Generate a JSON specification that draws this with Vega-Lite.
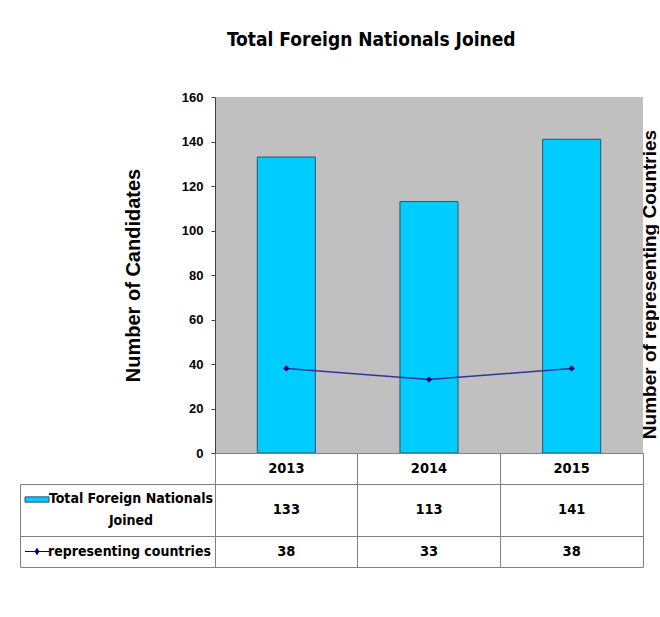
{
  "$schema": "https://vega.github.io/schema/vega-lite/v6.json",
  "background": "white",
  "padding": {"left": 19, "top": 31, "right": 0, "bottom": 0},
  "autosize": {"type": "pad"},
  "spacing": 0,
  "bounds": "flush",
  "align": "each",
  "columns": 2,
  "title": {"text": "Total Foreign Nationals Joined", "font": "DejaVu Sans Condensed, Liberation Sans", "fontSize": 19, "fontWeight": "bold", "color": "black", "anchor": "middle", "dx": 32, "offset": 41},
  "config": {"view": {"stroke": "#808080", "strokeWidth": 1}, "font": "Liberation Sans"},
  "datasets": {
    "years": [
      {"year": "2013", "candidates": 133, "countries": 38},
      {"year": "2014", "candidates": 113, "countries": 33},
      {"year": "2015", "candidates": 141, "countries": 38}
    ],
    "series": [
      {"series": "Total Foreign Nationals Joined", "label": "Total Foreign Nationals\nJoined"},
      {"series": "representing countries", "label": "representing countries"}
    ]
  },
  "concat": [
    {"width": 195, "height": 356, "view": {"stroke": null}, "data": {"values": []}, "mark": "point"},
    {
      "width": 428, "height": 356,
      "view": {"stroke": null, "fill": "#C0C0C0"},
      "data": {"name": "years"},
      "encoding": {
        "x": {"field": "year", "type": "nominal", "scale": {"type": "band", "paddingInner": 0.593, "paddingOuter": 0.2965},
          "axis": {"labels": false, "ticks": false, "title": null, "domainColor": "#404040", "grid": false}}
      },
      "layer": [
        {
          "mark": {"type": "bar", "fill": "#00CCFF", "stroke": "#2F4F6F", "strokeWidth": 1},
          "encoding": {
            "y": {"field": "candidates", "type": "quantitative", "scale": {"domain": [0, 160], "nice": false},
              "axis": {"title": "Number of Candidates", "titleFont": "Liberation Sans", "titleFontSize": 20, "titleFontWeight": "bold", "titleColor": "black", "titlePadding": 38,
                "values": [0, 20, 40, 60, 80, 100, 120, 140, 160], "labelFont": "Liberation Sans", "labelFontSize": 13, "labelFontWeight": "bold", "labelColor": "black",
                "labelPadding": 8, "labelFlush": false, "labelOverlap": false, "tickSize": 4, "tickColor": "#404040", "domainColor": "#404040", "grid": false}}
          }
        },
        {
          "mark": {"type": "line", "color": "#333399", "strokeWidth": 1.5},
          "encoding": {
            "y": {"field": "countries", "type": "quantitative", "scale": {"domain": [0, 160], "nice": false},
              "axis": {"orient": "right", "title": "Number of representing Countries", "titleFont": "Liberation Sans", "titleFontSize": 19, "titleFontWeight": "bold", "titleColor": "black",
                "titleAngle": 270, "titlePadding": 16, "titleY": 187, "labels": false, "ticks": false, "domain": false, "grid": false}}
          }
        },
        {
          "mark": {"type": "point", "shape": "diamond", "filled": true, "color": "#000080", "size": 40, "opacity": 1},
          "encoding": {
            "y": {"field": "countries", "type": "quantitative", "scale": {"domain": [0, 160], "nice": false}, "axis": null}
          }
        }
      ],
      "resolve": {"scale": {"y": "independent"}, "axis": {"y": "independent"}}
    },
    {"width": 195, "height": 31, "view": {"stroke": null}, "data": {"values": []}, "mark": "point"},
    {
      "width": 428, "height": 31,
      "data": {"name": "years"},
      "mark": {"type": "text", "font": "DejaVu Sans Condensed, Liberation Sans", "fontSize": 14.5, "fontWeight": "bold", "color": "black"},
      "encoding": {
        "x": {"field": "year", "type": "nominal", "scale": {"type": "band", "padding": 0},
          "axis": {"labels": false, "ticks": false, "domain": false, "title": null, "grid": true, "gridColor": "#808080", "bandPosition": 0}},
        "text": {"field": "year"}
      }
    },
    {
      "width": 195, "height": 52,
      "data": {"name": "series"},
      "transform": [{"filter": "datum.series == 'Total Foreign Nationals Joined'"}],
      "encoding": {"y": {"field": "series", "type": "nominal", "axis": null}},
      "layer": [
        {"mark": {"type": "point", "shape": "M-1,-0.22H1V0.22H-1Z", "size": 576, "filled": true, "fill": "#00CCFF", "stroke": "#2F4F6F", "strokeWidth": 1, "opacity": 1, "xOffset": -80.5, "yOffset": -10.5}},
        {"mark": {"type": "text", "font": "DejaVu Sans Condensed, Liberation Sans", "fontSize": 14, "fontWeight": "bold", "color": "black", "lineBreak": "\n", "lineHeight": 22, "dx": 13.5, "dy": -11},
          "encoding": {"text": {"field": "label"}}}
      ]
    },
    {
      "width": 428, "height": 52,
      "data": {"name": "years"},
      "mark": {"type": "text", "font": "DejaVu Sans Condensed, Liberation Sans", "fontSize": 14.5, "fontWeight": "bold", "color": "black"},
      "encoding": {
        "x": {"field": "year", "type": "nominal", "scale": {"type": "band", "padding": 0},
          "axis": {"labels": false, "ticks": false, "domain": false, "title": null, "grid": true, "gridColor": "#808080", "bandPosition": 0}},
        "text": {"field": "candidates"}
      }
    },
    {
      "width": 195, "height": 31,
      "data": {"name": "series"},
      "transform": [{"filter": "datum.series == 'representing countries'"}],
      "encoding": {"y": {"field": "series", "type": "nominal", "axis": null}},
      "layer": [
        {"mark": {"type": "point", "shape": "M-1,0H1M0,-0.26L0.15,0L0,0.26L-0.15,0Z", "size": 576, "filled": true, "fill": "#000080", "stroke": "#000080", "strokeWidth": 1, "opacity": 1, "xOffset": -80.5}},
        {"mark": {"type": "text", "font": "DejaVu Sans Condensed, Liberation Sans", "fontSize": 14, "fontWeight": "bold", "color": "black", "dx": 12},
          "encoding": {"text": {"field": "label"}}}
      ]
    },
    {
      "width": 428, "height": 31,
      "data": {"name": "years"},
      "mark": {"type": "text", "font": "DejaVu Sans Condensed, Liberation Sans", "fontSize": 14.5, "fontWeight": "bold", "color": "black"},
      "encoding": {
        "x": {"field": "year", "type": "nominal", "scale": {"type": "band", "padding": 0},
          "axis": {"labels": false, "ticks": false, "domain": false, "title": null, "grid": true, "gridColor": "#808080", "bandPosition": 0}},
        "text": {"field": "countries"}
      }
    }
  ]
}
